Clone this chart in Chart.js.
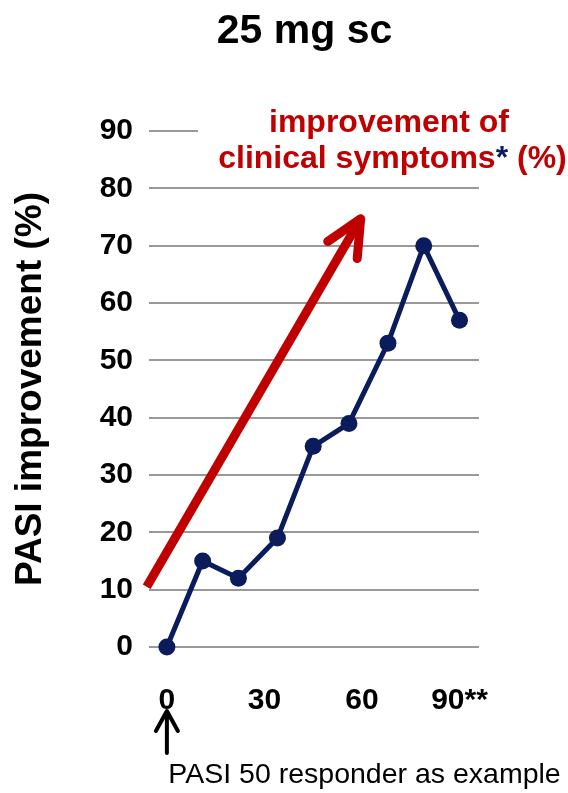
<!DOCTYPE html>
<html>
<head>
<meta charset="utf-8">
<script src="https://cdn.jsdelivr.net/npm/chart.js@4.4.1/dist/chart.umd.min.js"></script>
<style>
    html, body { margin: 0; padding: 0; background: #fff; }
    canvas { display: block; }
</style>
</head>
<body>
<canvas id="chart" width="568" height="793"></canvas>
<script>
// days after start, PASI improvement (%) of one responder
const days = [0, 11, 22, 34, 45, 56, 68, 79, 90];
const pasi = [0, 15, 12, 19, 35, 39, 53, 70, 57];

const xTicks = [0, 30, 60, 90];
const xTickLabels = ['0', '30', '60', '90**'];

// trend arrow for clinical symptoms (start, tip)
const symptomArrow = [{ x: -6.2, y: 10.5 }, { x: 59.6, y: 74.7 }];

const RED = '#c00000';
const NAVY = '#0a1c5c';
const FONT = '"Liberation Sans", Arial, sans-serif';

Chart.defaults.font.family = FONT;

const textPlugin = {
    id: 'texts',
    beforeDatasetsDraw: function(chart) {
        // white box of the annotation hides part of the top gridline
        const ctx = chart.ctx;
        ctx.save();
        ctx.fillStyle = '#fff';
        ctx.fillRect(198, 100, 370, 50);
        ctx.restore();
    },
    afterDatasetsDraw: function(chart) {
        // arrow head on the red trend line
        const pts = chart.getDatasetMeta(0).data;
        const a = pts[0], b = pts[1];
        const ang = Math.atan2(a.y - b.y, a.x - b.x);
        const len = 40, spread = 0.44;
        const ctx = chart.ctx;
        ctx.save();
        ctx.strokeStyle = RED;
        ctx.lineWidth = 9;
        ctx.lineCap = 'round';
        ctx.lineJoin = 'round';
        ctx.beginPath();
        ctx.moveTo(b.x + len * Math.cos(ang + spread), b.y + len * Math.sin(ang + spread));
        ctx.lineTo(b.x, b.y);
        ctx.lineTo(b.x + len * Math.cos(ang - spread), b.y + len * Math.sin(ang - spread));
        ctx.stroke();
        ctx.restore();
    },
    afterDraw: function(chart) {
        const ctx = chart.ctx;
        ctx.save();
        ctx.textBaseline = 'alphabetic';

        ctx.fillStyle = '#000';
        ctx.textAlign = 'center';
        ctx.font = 'bold 41px ' + FONT;
        ctx.fillText('25 mg sc', 304.5, 43);

        ctx.font = 'bold 32px ' + FONT;
        ctx.fillStyle = RED;
        ctx.fillText('improvement of', 389, 132);
        const p1 = 'clinical symptoms', p2 = '*', p3 = ' (%)';
        const w1 = ctx.measureText(p1).width, w2 = ctx.measureText(p2).width, w3 = ctx.measureText(p3).width;
        let x = 392.5 - (w1 + w2 + w3) / 2;
        ctx.textAlign = 'left';
        ctx.fillText(p1, x, 168);
        ctx.fillStyle = NAVY;
        ctx.fillText(p2, x + w1, 168);
        ctx.fillStyle = RED;
        ctx.fillText(p3, x + w1 + w2, 168);

        // start marker under day 0
        const x0 = chart.scales.x.getPixelForValue(0);
        ctx.strokeStyle = '#000';
        ctx.lineWidth = 4;
        ctx.lineCap = 'round';
        ctx.lineJoin = 'round';
        ctx.beginPath();
        ctx.moveTo(x0, 753);
        ctx.lineTo(x0, 712);
        ctx.moveTo(x0 - 11, 731);
        ctx.lineTo(x0, 711);
        ctx.lineTo(x0 + 11, 731);
        ctx.stroke();

        ctx.fillStyle = '#000';
        ctx.textAlign = 'center';
        ctx.font = '28.5px ' + FONT;
        ctx.fillText('PASI 50 responder as example', 364.5, 783);
        ctx.restore();
    }
};

new Chart(document.getElementById('chart'), {
    type: 'line',
    data: {
        datasets: [
            {
                data: symptomArrow,
                borderColor: RED,
                borderWidth: 9,
                borderCapStyle: 'butt',
                pointRadius: 0,
                clip: false
            },
            {
                data: days.map((d, i) => ({ x: d, y: pasi[i] })),
                borderColor: NAVY,
                backgroundColor: NAVY,
                borderWidth: 5,
                pointRadius: 8.5,
                pointBackgroundColor: NAVY,
                pointBorderWidth: 0,
                clip: false
            }
        ]
    },
    options: {
        responsive: false,
        animation: false,
        devicePixelRatio: 1,
        layout: { padding: { top: 131, right: 89, left: 0, bottom: 0 } },
        plugins: {
            legend: { display: false },
            tooltip: { enabled: false },
            title: { display: false }
        },
        scales: {
            x: {
                type: 'linear',
                min: -5.5,
                max: 96,
                grid: { display: false },
                border: { display: false },
                afterBuildTicks: scale => { scale.ticks = xTicks.map(v => ({ value: v })); },
                afterFit: scale => { scale.height = 146; },
                ticks: {
                    autoSkip: false,
                    maxRotation: 0,
                    padding: 28,
                    color: '#000',
                    font: { size: 30, weight: 'bold' },
                    callback: (v, i) => xTickLabels[i]
                }
            },
            y: {
                min: 0,
                max: 90,
                grid: { color: '#999', lineWidth: 2, drawTicks: false },
                border: { display: false },
                afterFit: scale => { scale.width = 149; },
                ticks: {
                    stepSize: 10,
                    padding: 16,
                    color: '#000',
                    font: { size: 30, weight: 'bold' }
                },
                title: {
                    display: true,
                    text: 'PASI improvement (%)',
                    color: '#000',
                    font: { size: 37, weight: 'bold' },
                    padding: { top: 9, bottom: 0 }
                }
            }
        }
    },
    plugins: [textPlugin]
});
</script>
</body>
</html>
